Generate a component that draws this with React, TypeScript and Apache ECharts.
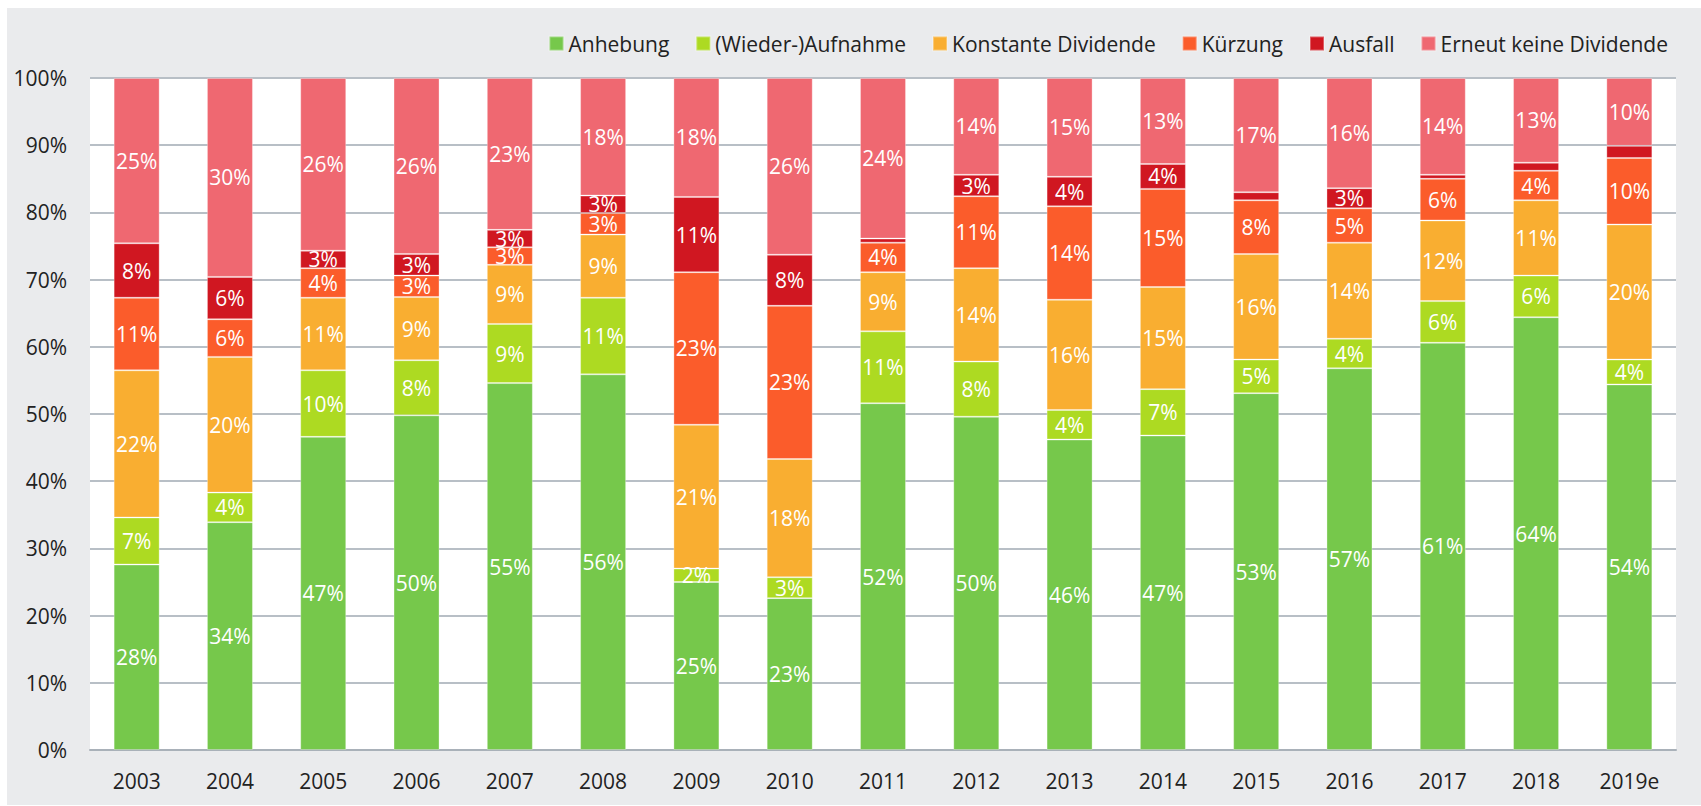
import React, { useEffect, useRef } from "react";
import * as echarts from "echarts";

const categories = ["2003", "2004", "2005", "2006", "2007", "2008", "2009", "2010", "2011", "2012", "2013", "2014", "2015", "2016", "2017", "2018", "2019e"];
const anhebung = [27.6, 33.9, 46.6, 49.8, 54.6, 55.9, 25.0, 22.6, 51.6, 49.6, 46.2, 46.8, 53.1, 56.8, 60.6, 64.4, 54.4];
const wiederaufnahme = [7.0, 4.4, 9.9, 8.2, 8.8, 11.4, 2.0, 3.1, 10.7, 8.2, 4.4, 6.9, 5.0, 4.4, 6.2, 6.2, 3.7];
const konstant = [21.9, 20.2, 10.8, 9.4, 8.8, 9.4, 21.4, 17.6, 8.8, 13.9, 16.4, 15.2, 15.7, 14.3, 12.0, 11.2, 20.1];
const kuerzung = [10.8, 5.6, 4.4, 3.2, 2.6, 3.2, 22.7, 22.8, 4.4, 10.7, 13.9, 14.6, 8.0, 5.1, 6.2, 4.4, 9.9];
const ausfall = [8.1, 6.3, 2.6, 3.2, 2.6, 2.6, 11.2, 7.6, 0.6, 3.2, 4.4, 3.7, 1.2, 3.0, 0.6, 1.2, 1.8];
const erneut = [24.6, 29.6, 25.7, 26.2, 22.6, 17.5, 17.7, 26.3, 23.9, 14.4, 14.7, 12.8, 17.0, 16.4, 14.4, 12.6, 10.1];

const seriesNames = ["Anhebung", "(Wieder-)Aufnahme", "Konstante Dividende", "Kürzung", "Ausfall", "Erneut keine Dividende"];
const seriesData = [anhebung, wiederaufnahme, konstant, kuerzung, ausfall, erneut];
const colors = ["#76C84B", "#ADDA22", "#F9AE31", "#FB5C2B", "#D01721", "#EF6871"];

const FONT = "'Open Sans', 'Noto Sans', sans-serif";

export default function App() {
  const ref = useRef<HTMLDivElement>(null);
  useEffect(() => {
    if (!ref.current) return;
    const chart = echarts.init(ref.current, undefined, { renderer: "svg" });
    chart.setOption({
      animation: false,
      backgroundColor: "#EAEBED",
      color: colors,
      legend: {
        right: 28,
        top: 20,
        itemWidth: 14,
        itemHeight: 14,
        itemGap: 26,
        icon: "rect",
        textStyle: { fontFamily: FONT, fontSize: 21, color: "#222" },
        data: seriesNames,
      },
      grid: {
        left: 83,
        right: 25,
        top: 70,
        bottom: 55,
        show: true,
        backgroundColor: "#ffffff",
        borderWidth: 0,
        containLabel: false,
      },
      xAxis: {
        type: "category",
        data: categories,
        axisTick: { show: false },
        axisLine: { lineStyle: { color: "#A9B1B9", width: 2 } },
        axisLabel: { fontFamily: FONT, fontSize: 21, color: "#222", margin: 20 },
      },
      yAxis: {
        type: "value",
        min: 0,
        max: 100,
        interval: 10,
        axisLabel: { fontFamily: FONT, fontSize: 21, color: "#222", margin: 23, formatter: "{value}%" },
        splitLine: { lineStyle: { color: "#B8BFC6", width: 2 } },
        axisLine: { show: false },
        axisTick: { show: false },
      },
      series: seriesNames.map((name, i) => ({
        name,
        type: "bar",
        stack: "total",
        barWidth: 46,
        data: seriesData[i],
        itemStyle: { color: colors[i], borderColor: "rgba(255,255,255,0.3)", borderWidth: 1 },
        label: {
          show: true,
          position: "inside",
          color: "#ffffff",
          fontFamily: FONT,
          fontSize: 21,
          formatter: (p: any) => (p.value >= 1.9 ? Math.round(p.value) + "%" : ""),
        },
      })),
    });
    return () => chart.dispose();
  }, []);
  return (
    <div
      ref={ref}
      style={{ position: "fixed", left: 7, top: 8, width: 1694, height: 797 }}
    />
  );
}
